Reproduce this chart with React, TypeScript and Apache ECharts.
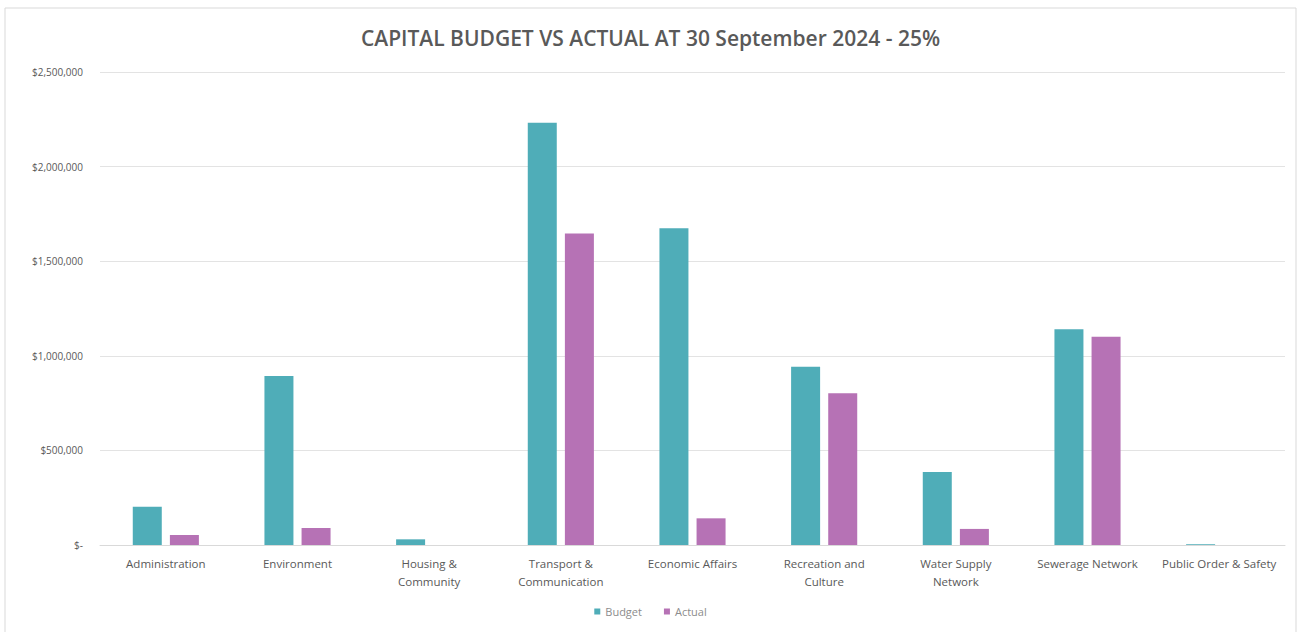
import React, { useEffect, useRef } from "react";
import * as echarts from "echarts";

const categories = [
  "Administration",
  "Environment",
  "Housing &\nCommunity",
  "Transport &\nCommunication",
  "Economic Affairs",
  "Recreation and\nCulture",
  "Water Supply\nNetwork",
  "Sewerage Network",
  "Public Order & Safety",
];
const budget = [202000, 893000, 30000, 2232000, 1674000, 942000, 386000, 1140000, 4000];
const actual = [53000, 90000, 0, 1647000, 141000, 802000, 85000, 1101000, 0];
const titleText = "CAPITAL BUDGET VS ACTUAL AT 30 September 2024 - 25%";

const fmt = (v: number) => (v === 0 ? "$-" : "$" + v.toLocaleString("en-US"));

export default function App() {
  const ref = useRef<HTMLDivElement>(null);
  useEffect(() => {
    const chart = echarts.init(ref.current!, undefined, { renderer: "svg" });
    chart.setOption({
      animation: false,
      backgroundColor: "#ffffff",
      title: {
        text: titleText,
        left: "center",
        top: 22,
        textStyle: { fontFamily: "Open Sans", fontSize: 21, fontWeight: 600, color: "#595959" },
      },
      graphic: [
        {
          type: "rect",
          shape: { x: 5, y: 8, width: 1291, height: 630 },
          style: { fill: "none", stroke: "#d9d9d9", lineWidth: 1 },
          silent: true,
        },
      ],
      legend: {
        bottom: 10,
        left: "center",
        itemWidth: 6,
        itemHeight: 6,
        itemGap: 22,
        icon: "rect",
        textStyle: { fontFamily: "Open Sans", fontSize: 11, color: "#8c8c8c" },
        data: ["Budget", "Actual"],
      },
      grid: { left: 100, right: 16, top: 72, bottom: 87, containLabel: false },
      xAxis: {
        type: "category",
        data: categories,
        axisTick: { show: false },
        axisLine: { lineStyle: { color: "#d9d9d9" } },
        axisLabel: {
          interval: 0,
          fontFamily: "Open Sans",
          fontSize: 11.5,
          color: "#595959",
          lineHeight: 18,
          margin: 9,
        },
      },
      yAxis: {
        type: "value",
        min: 0,
        max: 2500000,
        interval: 500000,
        axisLine: { show: false },
        axisTick: { show: false },
        splitLine: { lineStyle: { color: "#e3e3e3" } },
        axisLabel: {
          formatter: fmt,
          fontFamily: "Open Sans",
          fontSize: 10,
          color: "#595959",
          margin: 17,
        },
      },
      series: [
        {
          name: "Budget",
          type: "bar",
          data: budget,
          itemStyle: { color: "#4fadb8" },
          barWidth: 29,
          barGap: "28%",
        },
        {
          name: "Actual",
          type: "bar",
          data: actual,
          itemStyle: { color: "#b672b5" },
          barWidth: 29,
        },
      ],
    });
    return () => chart.dispose();
  }, []);
  return <div ref={ref} style={{ width: 1301, height: 632, position: "absolute", left: 0, top: 0 }} />;
}
